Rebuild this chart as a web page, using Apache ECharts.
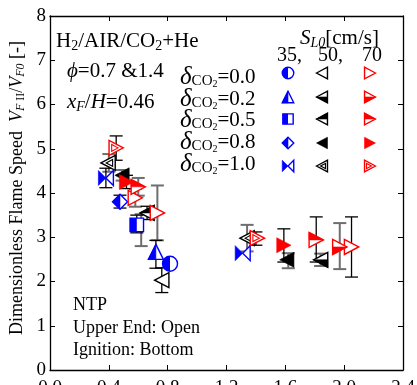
<!DOCTYPE html>
<html><head><meta charset="utf-8">
<script src="https://cdn.jsdelivr.net/npm/echarts@6/dist/echarts.min.js"></script>
<style>html,body{margin:0;padding:0;background:#fff}#c{width:417px;height:385px}</style>
</head><body><div id="c"></div>
<script>
// ---------- data ----------
const xTicks = [0.0, 0.4, 0.8, 1.2, 1.6, 2.0, 2.4];
const yTicks = [0, 1, 2, 3, 4, 5, 6, 7, 8];
const deltaLabels = ['0.0', '0.2', '0.5', '0.8', '1.0'];
const speedLabels = ['35,', '50,', '70'];
// points: [x, y]
const blue_d00 = [[0.816, 2.40]];
const blue_d02 = [[0.72, 2.67]];
const blue_d05 = [[0.59, 3.28]];
const blue_d08 = [[0.476, 3.80]];
const blue_d10 = [[0.38, 4.34], [1.31, 2.64]];
const black_d00 = [[0.76, 2.03]];
const black_d02 = [[1.84, 2.49]];
const black_d05 = [[0.66, 3.55]];
const black_d08 = [[0.49, 4.40], [1.61, 2.49]];
const black_d10 = [[0.395, 4.68], [1.34, 2.98]];
const red_d00 = [[0.58, 3.89], [0.73, 3.55], [2.05, 2.78]];
const red_d02 = [[1.97, 2.78]];
const red_d05 = [[0.60, 4.14], [1.81, 2.94]];
const red_d08 = [[0.52, 4.25], [1.59, 2.82]];
const red_d10 = [[0.45, 5.02], [1.41, 2.98]];
// error bars: [x, low, high]
const errBlack = [
  [0.72, 2.30, 2.93], [0.59, 3.10, 3.50], [0.476, 3.66, 3.95], [0.38, 4.12, 4.56],
  [0.76, 1.75, 2.31], [0.66, 3.40, 3.70], [0.45, 4.74, 5.29], [0.52, 4.10, 4.40],
  [2.05, 2.10, 3.46], [1.81, 2.44, 3.46], [1.59, 2.44, 3.19], [1.40, 2.82, 3.12]
];
const errGray = [
  [0.40, 4.48, 4.88], [0.49, 4.28, 4.52], [0.60, 3.94, 4.34], [0.58, 3.69, 4.09],
  [0.73, 2.93, 4.17], [0.62, 2.80, 3.52], [1.34, 2.68, 3.28], [1.62, 2.30, 2.64],
  [1.84, 2.35, 2.63], [1.97, 2.28, 3.32]
];

// ---------- drawing helpers ----------
const FONT = "'Liberation Serif','Times New Roman',serif";
const BLUE = '#0000ff', BLACK = '#000000', RED = '#ff0000';

function markerShapes(kind, fill, color, cx, cy, s) {
  const h = s / 2, lw = 1.4;
  const out = [];
  const outline = pts => ({type: 'polygon', shape: {points: pts}, style: {fill: '#fff', stroke: color, lineWidth: lw}});
  const solid = pts => ({type: 'polygon', shape: {points: pts}, style: {fill: color, stroke: color, lineWidth: 0.6}});
  if (kind === 'circle') {
    out.push({type: 'circle', shape: {cx: cx, cy: cy, r: h}, style: {fill: '#fff', stroke: color, lineWidth: lw}});
    out.push({type: 'sector', shape: {cx: cx, cy: cy, r0: 0, r: h, startAngle: Math.PI / 2, endAngle: Math.PI * 1.5, clockwise: true}, style: {fill: color}});
  } else if (kind === 'triUp') {
    out.push(outline([[cx, cy - h], [cx + h, cy + h], [cx - h, cy + h]]));
    out.push(solid([[cx, cy - h], [cx, cy + h], [cx - h, cy + h]]));
  } else if (kind === 'square') {
    const q = h * 0.9;
    out.push({type: 'rect', shape: {x: cx - q, y: cy - q, width: 2 * q, height: 2 * q}, style: {fill: '#fff', stroke: color, lineWidth: lw}});
    out.push({type: 'rect', shape: {x: cx - q, y: cy - q, width: q, height: 2 * q}, style: {fill: color}});
  } else if (kind === 'diamond') {
    out.push(outline([[cx, cy - h], [cx + h, cy], [cx, cy + h], [cx - h, cy]]));
    out.push(solid([[cx, cy - h], [cx, cy + h], [cx - h, cy]]));
  } else if (kind === 'bowtie') {
    out.push(outline([[cx + h, cy - h], [cx, cy], [cx + h, cy + h]]));
    out.push(solid([[cx - h, cy - h], [cx, cy], [cx - h, cy + h]]));
  } else {
    // 'triLeft' or 'triRight'
    const d = kind === 'triLeft' ? -1 : 1;
    const w = h * 0.95;
    const tip = [cx + d * w, cy], b1 = [cx - d * w, cy - h], b2 = [cx - d * w, cy + h];
    if (fill === 'full') {
      out.push(solid([tip, b1, b2]));
    } else {
      out.push(outline([tip, b1, b2]));
      if (fill === 'bottom') out.push(solid([tip, [cx - d * w, cy], b2]));
      if (fill === 'top') out.push(solid([tip, b1, [cx - d * w, cy]]));
      if (fill === 'double') {
        const gx = cx - d * w / 3;
        const k = 0.45;
        const sc = p => [gx + (p[0] - gx) * k, cy + (p[1] - cy) * k];
        out.push({type: 'polygon', shape: {points: [sc(tip), sc(b1), sc(b2)]}, style: {fill: 'none', stroke: color, lineWidth: 1.1}});
      }
    }
  }
  return out;
}

const specs = [
  {data: black_d00, kind: 'triLeft', fill: 'none', color: BLACK},
  {data: black_d02, kind: 'triLeft', fill: 'bottom', color: BLACK},
  {data: black_d05, kind: 'triLeft', fill: 'top', color: BLACK},
  {data: black_d08, kind: 'triLeft', fill: 'full', color: BLACK},
  {data: black_d10, kind: 'triLeft', fill: 'double', color: BLACK},
  {data: blue_d00, kind: 'circle', color: BLUE},
  {data: blue_d02, kind: 'triUp', color: BLUE},
  {data: blue_d05, kind: 'square', color: BLUE},
  {data: blue_d08, kind: 'diamond', color: BLUE},
  {data: blue_d10, kind: 'bowtie', color: BLUE},
  {data: red_d00, kind: 'triRight', fill: 'none', color: RED},
  {data: red_d02, kind: 'triRight', fill: 'bottom', color: RED},
  {data: red_d05, kind: 'triRight', fill: 'top', color: RED},
  {data: red_d08, kind: 'triRight', fill: 'full', color: RED},
  {data: red_d10, kind: 'triRight', fill: 'double', color: RED}
];

function errSeries(data, color, lw) {
  return {
    type: 'custom', data: data, encode: {x: 0, y: [1, 2]}, silent: true, z: 2,
    renderItem: function (params, api) {
      const x = api.value(0);
      const p1 = api.coord([x, api.value(1)]);
      const p2 = api.coord([x, api.value(2)]);
      const cw = 6.5;
      return {type: 'group', children: [
        {type: 'line', shape: {x1: p1[0], y1: p1[1], x2: p2[0], y2: p2[1]}, style: {stroke: color, lineWidth: lw}},
        {type: 'line', shape: {x1: p1[0] - cw, y1: p1[1], x2: p1[0] + cw, y2: p1[1]}, style: {stroke: color, lineWidth: lw}},
        {type: 'line', shape: {x1: p2[0] - cw, y1: p2[1], x2: p2[0] + cw, y2: p2[1]}, style: {stroke: color, lineWidth: lw}}
      ]};
    }
  };
}

const series = [errSeries(errGray, '#6e6e6e', 2), errSeries(errBlack, '#000', 1.3)];
specs.forEach(function (sp, i) {
  series.push({
    type: 'custom', data: sp.data, encode: {x: 0, y: 1}, z: 3 + i,
    renderItem: function (params, api) {
      const p = api.coord([api.value(0), api.value(1)]);
      return {type: 'group', children: markerShapes(sp.kind, sp.fill, sp.color, p[0], p[1], 15)};
    }
  });
});

// ---------- legend & annotations ----------
const legendCols = [288, 322, 370];
const legendRows = [73, 97, 119, 143, 166];
const graphics = [];
specs.forEach(function (sp, i) {
  const col = i < 5 ? 1 : (i < 10 ? 0 : 2);
  const row = i % 5;
  graphics.push({type: 'group', children: markerShapes(sp.kind, sp.fill, sp.color, legendCols[col], legendRows[row], 11.5)});
});

const rich = {
  n: {fontFamily: FONT, fontSize: 21, lineHeight: 24, fill: '#000'},
  i: {fontFamily: FONT, fontSize: 21, lineHeight: 24, fontStyle: 'italic', fill: '#000'},
  s: {fontFamily: FONT, fontSize: 14, lineHeight: 12, verticalAlign: 'bottom', fill: '#000'},
  si: {fontFamily: FONT, fontSize: 14, lineHeight: 12, verticalAlign: 'bottom', fontStyle: 'italic', fill: '#000'},
  d: {fontFamily: FONT, fontSize: 25, lineHeight: 24, fontStyle: 'italic', fill: '#000'},
  ds: {fontFamily: FONT, fontSize: 15, lineHeight: 10, verticalAlign: 'bottom', fill: '#000'},
  dss: {fontFamily: FONT, fontSize: 10, lineHeight: 4, verticalAlign: 'bottom', fill: '#000'},
  ln: {fontFamily: FONT, fontSize: 18, lineHeight: 20, fill: '#000'},
  li: {fontFamily: FONT, fontSize: 18, lineHeight: 20, fontStyle: 'italic', fill: '#000'},
  ls: {fontFamily: FONT, fontSize: 12, lineHeight: 10, verticalAlign: 'bottom', fontStyle: 'italic', fill: '#000'},
  lsr: {fontFamily: FONT, fontSize: 12, lineHeight: 10, verticalAlign: 'bottom', fill: '#000'}
};
function txt(x, y, text, extra) {
  return Object.assign({type: 'text', x: x, y: y, z: 100,
    style: {text: text, rich: rich, fontFamily: FONT, fontSize: 21, fill: '#000', align: 'left', verticalAlign: 'middle'}}, extra || {});
}
graphics.push(txt(56, 41, '{n|H}{s|2}{n|/AIR/CO}{s|2}{n|+He}'));
graphics.push(txt(67, 71, '{i|ϕ}{n|=0.7 &1.4}'));
graphics.push(txt(67, 102, '{i|x}{si|F}{n|/}{i|H}{n|=0.46}'));
deltaLabels.forEach(function (d, r) {
  graphics.push(txt(180, [77, 99, 120, 142, 164][r], '{d|δ}{ds|CO}{dss|2}{n|=' + d + '}'));
});
graphics.push(txt(300, 38, '{i|S}{si|L0}{n|[cm/s]}'));
[277, 318, 362].forEach(function (x, k) {
  graphics.push({type: 'text', x: x, y: 56, z: 100, style: {text: speedLabels[k], fontFamily: FONT, fontSize: 20, fill: '#000', verticalAlign: 'middle'}});
});
['NTP', 'Upper End: Open', 'Ignition: Bottom'].forEach(function (t, k) {
  graphics.push({type: 'text', x: 73, y: [305, 328, 350][k], z: 100, style: {text: t, fontFamily: FONT, fontSize: 18, fill: '#000', verticalAlign: 'middle'}});
});
graphics.push({type: 'text', x: 17, y: 188, rotation: Math.PI / 2, z: 100,
  style: {text: '{ln|Dimensionless Flame Speed  }{li|V}{ls|F }{lsr|II}{ln|/}{li|V}{ls|F0}{ln| [-]}', rich: rich,
    fontFamily: FONT, fontSize: 18, fill: '#000', align: 'center', verticalAlign: 'middle'}});

// ---------- chart ----------
const axisLine = {show: true, onZero: false, lineStyle: {color: '#000', width: 1.3}};
const tick = {show: true, inside: true, length: 5, lineStyle: {color: '#000', width: 1}};
const chart = echarts.init(document.getElementById('c'), null, {renderer: 'canvas'});
chart.setOption({
  animation: false,
  backgroundColor: '#fff',
  grid: {left: 50, right: 14, top: 16, bottom: 15, containLabel: false, outerBoundsMode: 'none'},
  xAxis: [
    {type: 'value', min: xTicks[0], max: xTicks[xTicks.length - 1], interval: 0.4, position: 'bottom',
      axisLine: axisLine, axisTick: tick, splitLine: {show: false},
      axisLabel: {formatter: function (v) { return v.toFixed(1); }, fontFamily: FONT, fontSize: 19, color: '#000', margin: 9}},
    {type: 'value', min: xTicks[0], max: xTicks[xTicks.length - 1], interval: 0.4, position: 'top',
      axisLine: axisLine, axisTick: tick, splitLine: {show: false}, axisLabel: {show: false}}
  ],
  yAxis: [
    {type: 'value', min: yTicks[0], max: yTicks[yTicks.length - 1], interval: 1, position: 'left',
      axisLine: axisLine, axisTick: tick, splitLine: {show: false},
      axisLabel: {fontFamily: FONT, fontSize: 19, color: '#000', margin: 4}},
    {type: 'value', min: yTicks[0], max: yTicks[yTicks.length - 1], interval: 1, position: 'right',
      axisLine: axisLine, axisTick: tick, splitLine: {show: false}, axisLabel: {show: false}}
  ],
  series: series,
  graphic: graphics
});
</script>
</body></html>
